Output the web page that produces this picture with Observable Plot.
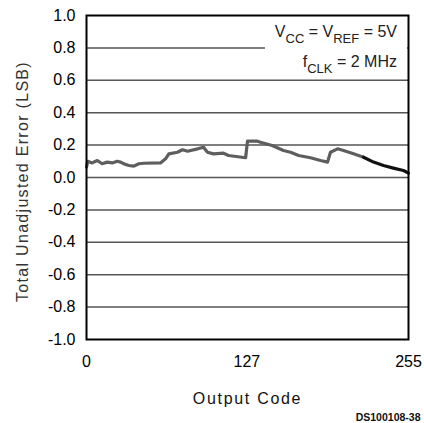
<!DOCTYPE html>
<html><head><meta charset="utf-8">
<script src="https://cdn.jsdelivr.net/npm/d3@7"></script>
<script src="https://cdn.jsdelivr.net/npm/@observablehq/plot@0.6"></script>
<style>body{margin:0;background:#fff;}</style>
</head><body><div id="chart"></div>
<script>
const codes  = [0, 1, 4.5, 8.5, 12.4, 16.4, 20.4, 24.3, 27, 29.5, 33.5, 37.5, 41.4, 45.4, 58.6, 62.6, 65.2, 72, 76, 80, 88, 92.7, 95.8, 100.5, 108.5, 112.5, 126, 127.5, 135.4, 137.8, 147, 156, 161.6, 168, 177.4, 185.3, 190.9, 193.2, 198.8, 203.5, 211.5, 219.4, 227.3, 235.2, 243, 251, 255];
const errors = [0.064, 0.10, 0.09, 0.105, 0.085, 0.095, 0.09, 0.10, 0.095, 0.085, 0.074, 0.07, 0.085, 0.088, 0.09, 0.115, 0.146, 0.156, 0.171, 0.162, 0.177, 0.187, 0.156, 0.146, 0.15, 0.136, 0.122, 0.224, 0.224, 0.218, 0.198, 0.167, 0.156, 0.136, 0.122, 0.105, 0.095, 0.156, 0.177, 0.167, 0.146, 0.125, 0.095, 0.074, 0.058, 0.043, 0.027];
const yTicks = [-1.0, -0.8, -0.6, -0.4, -0.2, 0.0, 0.2, 0.4, 0.6, 0.8, 1.0];
const xTicks = [0, 127, 255];
const xLabel = "Output Code";
const yLabel = "Total Unadjusted Error (LSB)";
const note1 = [["V", false], ["CC", true], [" = V", false], ["REF", true], [" = 5V", false]];
const note2 = [["f", false], ["CLK", true], [" = 2 MHz", false]];
const caption = "DS100108-38";

const data = codes.map((c, i) => ({code: c, err: errors[i]}));
const font = "'Liberation Sans', Arial, sans-serif";

function notes(index, scales, values, dims) {
  const g = d3.create("svg:g");
  const right = dims.width - dims.marginRight;
  g.append("rect")
    .attr("x", right - 143).attr("y", dims.marginTop + 1)
    .attr("width", 142).attr("height", 37)
    .attr("fill", "white");
  [[note1, 22], [note2, 52]].forEach(([parts, off]) => {
    const t = g.append("text")
      .attr("x", right - 11).attr("y", dims.marginTop + off)
      .attr("text-anchor", "end")
      .attr("font-family", font).attr("font-size", 16).attr("fill", "#222");
    let down = false;
    parts.forEach(([s, sub]) => {
      const ts = t.append("tspan").text(s);
      if (sub && !down) { ts.attr("dy", 6).attr("font-size", 13); down = true; }
      else if (sub) { ts.attr("font-size", 13); }
      else if (down) { ts.attr("dy", -6); down = false; }
    });
  });
  return g.node();
}

const chart = Plot.plot({
  width: 424, height: 423,
  marginLeft: 86, marginRight: 16, marginTop: 15, marginBottom: 84,
  style: {fontFamily: font, fontSize: "16px", background: "white", color: "black", overflow: "visible"},
  x: {domain: [0, 255], ticks: xTicks, tickFormat: d => String(d), tickSize: 0, tickPadding: 16, label: null},
  y: {domain: [-1, 1], ticks: yTicks, tickFormat: d => d.toFixed(1), tickSize: 0, tickPadding: 11, label: null},
  marks: [
    Plot.ruleY(yTicks.filter(t => t > -1 && t < 1), {stroke: "#555", strokeWidth: 1.5}),
    notes,
    Plot.line(data.filter(d => d.code <= 219.4), {x: "code", y: "err", stroke: "#5e5e5e", strokeWidth: 3.2, strokeLinejoin: "round"}),
    Plot.line(data.filter(d => d.code >= 219.4), {x: "code", y: "err", stroke: "#111", strokeWidth: 3.2, strokeLinejoin: "round"}),
    Plot.frame({stroke: "black", strokeWidth: 2}),
    Plot.text([xLabel], {text: d => d, frameAnchor: "bottom", dy: 64, lineAnchor: "bottom", fontSize: 16, fill: "#111"}),
    Plot.text([yLabel], {text: d => d, frameAnchor: "left", textAnchor: "middle", dx: -64, dy: 4, rotate: -90, lineAnchor: "middle", fontSize: 16, fill: "#333"}),
    Plot.text([caption], {text: d => d, frameAnchor: "bottom-right", dx: 12, dy: 81, textAnchor: "end", lineAnchor: "bottom", fontSize: 10.5, fontWeight: "bold", fill: "#111"})
  ]
});
d3.select(chart).selectAll("text").each(function() {
  const s = this.textContent;
  if (s === xLabel) this.setAttribute("letter-spacing", "1.7");
  if (s === yLabel) this.setAttribute("letter-spacing", "1.3");
});
document.getElementById("chart").appendChild(chart);
</script>
</body></html>
